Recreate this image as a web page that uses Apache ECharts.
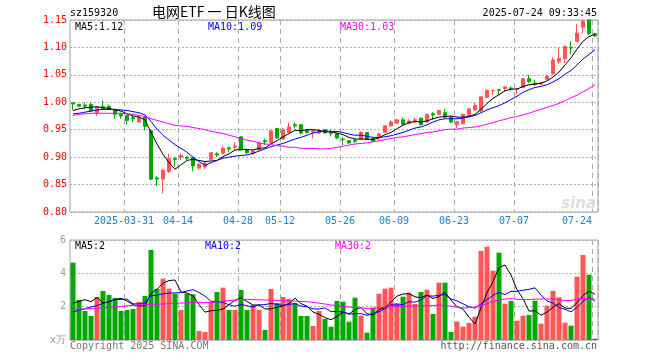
<!DOCTYPE html>
<html><head><meta charset="utf-8">
<script src="https://cdn.jsdelivr.net/npm/echarts@6/dist/echarts.min.js"></script>
<style>html,body{margin:0;padding:0;background:#fff}#c{width:660px;height:360px}</style>
</head><body><div id="c"></div>
<script>
const dates = ['2025-03-18','2025-03-19','2025-03-20','2025-03-21','2025-03-24','2025-03-25','2025-03-26','2025-03-27','2025-03-28','2025-03-31',
'2025-04-01','2025-04-02','2025-04-03','2025-04-07','2025-04-08','2025-04-09','2025-04-10','2025-04-11','2025-04-14','2025-04-15',
'2025-04-16','2025-04-17','2025-04-18','2025-04-21','2025-04-22','2025-04-23','2025-04-24','2025-04-25','2025-04-28','2025-04-29',
'2025-04-30','2025-05-06','2025-05-07','2025-05-08','2025-05-09','2025-05-12','2025-05-13','2025-05-14','2025-05-15','2025-05-16',
'2025-05-19','2025-05-20','2025-05-21','2025-05-22','2025-05-23','2025-05-26','2025-05-27','2025-05-28','2025-05-29','2025-05-30',
'2025-06-03','2025-06-04','2025-06-05','2025-06-06','2025-06-09','2025-06-10','2025-06-11','2025-06-12','2025-06-13','2025-06-16',
'2025-06-17','2025-06-18','2025-06-19','2025-06-20','2025-06-23','2025-06-24','2025-06-25','2025-06-26','2025-06-27','2025-06-30',
'2025-07-01','2025-07-02','2025-07-03','2025-07-04','2025-07-07','2025-07-08','2025-07-09','2025-07-10','2025-07-11','2025-07-14',
'2025-07-15','2025-07-16','2025-07-17','2025-07-18','2025-07-21','2025-07-22','2025-07-23','2025-07-24'];

const opens = [0.999,0.996,0.995,0.996,0.981,0.992,0.993,0.987,0.978,0.976,
0.972,0.964,0.973,0.948,0.862,0.860,0.874,0.898,0.900,0.900,
0.899,0.880,0.882,0.896,0.906,0.907,0.917,0.918,0.937,0.913,
0.906,0.913,0.930,0.926,0.952,0.933,0.945,0.959,0.959,0.950,
0.946,0.944,0.950,0.944,0.943,0.933,0.930,0.931,0.933,0.945,
0.934,0.937,0.945,0.957,0.962,0.968,0.961,0.964,0.971,0.964,
0.979,0.978,0.981,0.973,0.959,0.961,0.973,0.986,0.984,1.009,
1.021,1.023,1.025,1.026,1.024,1.027,1.043,1.035,1.033,1.042,
1.052,1.074,1.080,1.100,1.111,1.137,1.150,1.125];

const closes = [0.997,0.993,0.993,0.984,0.991,0.988,0.987,0.978,0.975,0.967,
0.970,0.973,0.956,0.860,0.860,0.876,0.897,0.896,0.903,0.898,
0.884,0.887,0.889,0.908,0.904,0.916,0.915,0.920,0.913,0.908,
0.911,0.926,0.928,0.948,0.935,0.950,0.955,0.957,0.944,0.945,
0.948,0.949,0.944,0.943,0.935,0.932,0.926,0.929,0.945,0.932,
0.929,0.942,0.957,0.964,0.968,0.960,0.966,0.968,0.959,0.978,
0.977,0.985,0.973,0.964,0.965,0.978,0.988,0.994,1.010,1.022,
1.022,1.022,1.028,1.025,1.025,1.043,1.038,1.033,1.035,1.048,
1.077,1.080,1.102,1.099,1.126,1.148,1.125,1.121];

const lows = [0.986,0.992,0.988,0.983,0.975,0.986,0.986,0.970,0.970,0.959,
0.964,0.963,0.949,0.858,0.847,0.834,0.871,0.883,0.895,0.894,
0.874,0.877,0.878,0.895,0.900,0.905,0.909,0.912,0.912,0.906,
0.904,0.912,0.922,0.925,0.934,0.932,0.944,0.952,0.941,0.943,
0.934,0.943,0.943,0.938,0.933,0.922,0.924,0.926,0.932,0.931,
0.928,0.931,0.944,0.956,0.961,0.959,0.960,0.963,0.958,0.963,
0.968,0.977,0.971,0.962,0.953,0.960,0.972,0.985,0.982,1.008,
1.013,1.013,1.019,1.021,1.015,1.026,1.035,1.030,1.032,1.041,
1.050,1.070,1.071,1.088,1.110,1.126,1.123,1.119];

const highs = [0.999,0.997,1.000,1.000,0.992,1.003,0.996,0.988,0.981,0.977,
0.975,0.977,0.975,0.950,0.865,0.879,0.906,0.900,0.907,0.901,
0.901,0.889,0.893,0.909,0.909,0.921,0.919,0.927,0.938,0.915,
0.913,0.928,0.934,0.950,0.953,0.953,0.963,0.963,0.960,0.951,
0.950,0.950,0.951,0.950,0.944,0.936,0.931,0.933,0.947,0.946,
0.935,0.944,0.958,0.967,0.969,0.972,0.969,0.972,0.972,0.979,
0.982,0.986,0.988,0.974,0.966,0.979,0.989,0.999,1.011,1.023,
1.022,1.024,1.029,1.029,1.026,1.045,1.050,1.041,1.037,1.050,
1.082,1.099,1.103,1.111,1.143,1.150,1.150,1.126];

const ma5 = [0.985,0.988,0.990,0.991,0.992,0.990,0.989,0.986,0.984,0.979,
0.975,0.973,0.968,0.945,0.924,0.905,0.890,0.878,0.886,0.894,
0.896,0.894,0.892,0.893,0.894,0.901,0.906,0.913,0.914,0.914,
0.913,0.916,0.917,0.924,0.930,0.937,0.943,0.949,0.948,0.950,
0.950,0.949,0.946,0.946,0.944,0.941,0.936,0.933,0.933,0.933,
0.932,0.935,0.941,0.945,0.952,0.958,0.963,0.965,0.964,0.966,
0.970,0.973,0.974,0.975,0.973,0.973,0.974,0.978,0.987,0.998,
1.007,1.014,1.021,1.024,1.024,1.029,1.032,1.033,1.035,1.039,
1.046,1.055,1.068,1.081,1.097,1.111,1.120,1.124];

const ma10 = [0.979,0.980,0.982,0.984,0.986,0.987,0.987,0.987,0.986,0.985,
0.983,0.981,0.977,0.965,0.951,0.940,0.931,0.923,0.916,0.909,
0.900,0.892,0.885,0.890,0.894,0.898,0.900,0.902,0.903,0.904,
0.907,0.911,0.915,0.919,0.922,0.925,0.929,0.933,0.936,0.940,
0.944,0.946,0.948,0.947,0.947,0.945,0.942,0.940,0.940,0.938,
0.936,0.936,0.937,0.939,0.942,0.945,0.949,0.953,0.955,0.959,
0.964,0.968,0.970,0.970,0.970,0.971,0.974,0.976,0.981,0.986,
0.990,0.994,0.999,1.005,1.011,1.018,1.023,1.027,1.029,1.032,
1.037,1.043,1.051,1.058,1.068,1.079,1.087,1.096];

const ma30 = [0.976,0.978,0.979,0.980,0.980,0.980,0.980,0.980,0.980,0.979,
0.978,0.976,0.974,0.970,0.967,0.964,0.961,0.958,0.957,0.956,
0.954,0.952,0.950,0.947,0.945,0.943,0.940,0.937,0.934,0.931,
0.929,0.926,0.924,0.923,0.921,0.920,0.918,0.918,0.916,0.916,
0.916,0.915,0.915,0.916,0.918,0.920,0.922,0.924,0.925,0.926,
0.928,0.930,0.932,0.934,0.936,0.937,0.939,0.941,0.943,0.945,
0.946,0.948,0.950,0.951,0.951,0.953,0.954,0.955,0.957,0.960,
0.963,0.966,0.969,0.972,0.974,0.977,0.980,0.984,0.987,0.991,
0.994,0.998,1.003,1.008,1.013,1.019,1.025,1.032];

const volumes = [4.64,2.40,1.74,1.44,2.58,2.94,2.70,2.52,1.74,1.80,
1.86,2.28,2.64,5.40,3.06,3.68,3.08,2.78,1.80,2.78,
2.74,0.54,0.48,2.28,2.88,3.14,1.80,1.80,3.00,1.80,
2.10,1.80,0.60,3.06,2.22,2.58,2.46,2.22,1.44,1.44,
0.84,1.74,1.26,0.80,2.34,2.30,1.10,2.54,1.46,0.44,
1.94,2.78,3.08,3.14,2.22,2.60,2.84,2.16,2.88,3.02,
1.56,3.44,3.44,0.48,1.10,0.80,1.02,1.40,5.34,5.60,
4.16,5.24,2.18,2.34,1.16,1.46,1.50,2.36,0.98,2.06,
2.94,2.56,1.04,0.86,3.80,5.10,3.92,0.08];

const volMa5 = [2.20,2.32,2.42,2.30,2.56,2.22,2.28,2.44,2.50,2.34,
2.12,2.04,2.06,2.80,3.05,3.41,3.57,3.60,2.88,2.82,
2.64,2.13,1.67,1.76,1.78,1.86,2.12,2.38,2.52,2.31,
2.10,2.10,1.86,1.87,1.96,2.05,2.18,2.51,2.18,2.03,
1.68,1.54,1.34,1.22,1.40,1.69,1.56,1.82,1.95,1.57,
1.50,1.83,1.94,2.28,2.63,2.76,2.78,2.59,2.54,2.70,
2.49,2.61,2.87,2.39,2.00,1.85,1.37,0.96,1.93,2.83,
3.50,4.35,4.50,3.90,3.02,2.48,1.73,1.76,1.49,1.67,
1.97,2.18,1.92,1.89,2.24,2.67,2.94,2.75];

const volMa10 = [1.68,1.78,1.88,1.98,2.06,2.20,2.32,2.42,2.44,2.45,
2.17,2.16,2.25,2.65,2.69,2.77,2.81,2.83,2.84,2.94,
3.02,2.85,2.63,2.32,2.30,2.25,2.12,2.02,2.14,2.05,
1.98,2.11,2.12,2.20,2.13,2.08,2.14,2.18,2.03,1.99,
1.87,1.86,1.93,1.70,1.71,1.68,1.55,1.58,1.58,1.48,
1.59,1.70,1.88,2.11,2.10,2.13,2.30,2.27,2.41,2.67,
2.63,2.69,2.73,2.46,2.35,2.17,1.99,1.91,2.16,2.42,
2.68,2.86,2.73,2.92,2.92,2.99,3.04,3.13,2.70,2.34,
2.22,1.95,1.84,1.69,1.96,2.32,2.56,2.33];

const volMa30 = [1.84,1.85,1.86,1.88,1.90,1.93,1.96,1.99,2.02,2.05,
2.08,2.10,2.12,2.14,2.15,2.16,2.18,2.20,2.22,2.24,
2.26,2.26,2.25,2.26,2.28,2.32,2.36,2.40,2.43,2.44,
2.42,2.41,2.40,2.39,2.37,2.35,2.34,2.33,2.31,2.30,
2.26,2.21,2.16,2.10,2.07,2.02,1.98,1.95,1.92,1.90,
1.90,1.93,1.96,2.00,2.01,2.02,2.03,2.04,2.05,2.05,
2.07,2.10,2.08,2.02,1.97,1.92,1.94,1.98,2.08,2.18,
2.32,2.40,2.46,2.48,2.44,2.42,2.43,2.45,2.46,2.46,
2.46,2.42,2.36,2.38,2.45,2.50,2.48,2.45];

const tickDates = ['2025-03-31','2025-04-14','2025-04-28','2025-05-12','2025-05-26','2025-06-09','2025-06-23','2025-07-07','2025-07-24'];
const tickTexts = ['2025-03-31','04-14','04-28','05-12','05-26','06-09','06-23','07-07','07-24'];

const stockCode = 'sz159320';
const chartTitle = '电网ETF 一 日K线图';
const stamp = '2025-07-24 09:33:45';

const UP = '#ff5555', DOWN = '#00a800';
const MONO = '"DejaVu Sans Mono", "Liberation Mono", monospace';
const n = dates.length;
const trunc = (v, d) => (Math.floor(v * Math.pow(10, d) + 1e-9) / Math.pow(10, d)).toFixed(d);
const isTick = (i) => tickDates.indexOf(dates[i]) >= 0;

const candleData = dates.map((d, i) => [opens[i], closes[i], lows[i], highs[i]]);
const volData = volumes.map((v, i) => ({
  value: v,
  itemStyle: { color: closes[i] >= opens[i] ? UP : DOWN }
}));

function xAxis(gi, withLabels) {
  return {
    type: 'category', gridIndex: gi, data: dates, boundaryGap: true,
    axisLine: { show: false }, axisTick: { show: false },
    axisLabel: withLabels ? {
      show: true, interval: (i) => isTick(i), margin: 4,
      formatter: (v, i) => {
        const t = tickTexts[tickDates.indexOf(v)];
        return i === n - 1 ? '{e|' + t + '}' : '{a|' + t + '}';
      },
      rich: {
        a: { color: '#1782d2', fontFamily: MONO, fontSize: 10, padding: [0, 6, 0, 0] },
        e: { color: '#1782d2', fontFamily: MONO, fontSize: 10, padding: [0, 36, 0, 0] }
      }
    } : { show: false },
    splitLine: { show: true, interval: (i) => isTick(i), lineStyle: { color: '#aaaaaa', type: [5, 4], width: 1 } }
  };
}

const lineS = (name, data, color, xi) => ({
  name, type: 'line', data, xAxisIndex: xi, yAxisIndex: xi, showSymbol: false, symbol: 'none',
  lineStyle: { color, width: 1 }, itemStyle: { color }, z: 3, silent: true
});

const txt = (text, x, y, color, opts) => Object.assign({
  type: 'text', x, y, z: 100,
  style: Object.assign({ text, fill: color, font: '10px ' + MONO, textVerticalAlign: 'middle' }, (opts || {}))
});

const option = {
  animation: false,
  backgroundColor: '#ffffff',
  grid: [
    { left: 70, top: 20, width: 528, height: 192, show: true, borderColor: '#a0a0a0', borderWidth: 1, containLabel: false, outerBoundsMode: 'none' },
    { left: 70, top: 240, width: 528, height: 100, show: true, borderColor: '#a0a0a0', borderWidth: 1, containLabel: false, outerBoundsMode: 'none' }
  ],
  xAxis: [xAxis(0, true), xAxis(1, false)],
  yAxis: [
    { type: 'value', gridIndex: 0, min: 0.80, max: 1.15, interval: 0.05, scale: true,
      axisLine: { show: false }, axisTick: { show: false },
      axisLabel: { color: '#ff0000', fontFamily: MONO, fontSize: 10, margin: 3, formatter: v => v.toFixed(2) },
      splitLine: { show: true, lineStyle: { color: '#b0b0b0', type: [2, 2], width: 1 } } },
    { type: 'value', gridIndex: 1, min: 0, max: 6, interval: 2,
      axisLine: { show: false }, axisTick: { show: false },
      axisLabel: { color: '#999999', fontFamily: MONO, fontSize: 10, margin: 4, formatter: v => v === 0 ? 'x万' : String(v) },
      splitLine: { show: true, lineStyle: { color: '#b0b0b0', type: [2, 2], width: 1 } } }
  ],
  series: [
    { type: 'candlestick', data: candleData, xAxisIndex: 0, yAxisIndex: 0, barWidth: 4, z: 2,
      itemStyle: { color: UP, color0: DOWN, borderColor: UP, borderColor0: DOWN, borderWidth: 1 } },
    lineS('MA5', ma5, '#000000', 0),
    lineS('MA10', ma10, '#0000ff', 0),
    lineS('MA30', ma30, '#ff00ff', 0),
    { type: 'bar', data: volData, xAxisIndex: 1, yAxisIndex: 1, barWidth: 5, z: 2 },
    lineS('VMA5', volMa5, '#000000', 1),
    lineS('VMA10', volMa10, '#0000ff', 1),
    lineS('VMA30', volMa30, '#ff00ff', 1)
  ],
  graphic: [
    txt(stockCode, 70, 13, '#000000'),
    txt(chartTitle, 152, 12, '#000000', { font: '14px "Noto Sans CJK SC", sans-serif' }),
    txt(stamp, 597, 13, '#000000', { textAlign: 'right' }),
    txt('MA5:' + trunc(ma5[n - 1], 2), 75, 27, '#000000'),
    txt('MA10:' + trunc(ma10[n - 1], 2), 208, 27, '#0000ff'),
    txt('MA30:' + trunc(ma30[n - 1], 2), 340, 27, '#ff00ff'),
    txt('MA5:' + trunc(volMa5[n - 1], 0), 75, 246, '#000000'),
    txt('MA10:' + trunc(volMa10[n - 1], 0), 205, 246, '#0000ff'),
    txt('MA30:' + trunc(volMa30[n - 1], 0), 335, 246, '#ff00ff'),
    txt('sina', 596, 204, '#dddddd', { textAlign: 'right', font: 'italic bold 15px "DejaVu Sans", sans-serif' }),
    txt('Copyright 2025 SINA.COM', 70, 346, '#777777'),
    txt('http://finance.sina.com.cn', 597, 346, '#555555', { textAlign: 'right' })
  ]
};

const chart = echarts.init(document.getElementById('c'), null, { renderer: 'canvas' });
chart.setOption(option);
</script>
</body></html>
